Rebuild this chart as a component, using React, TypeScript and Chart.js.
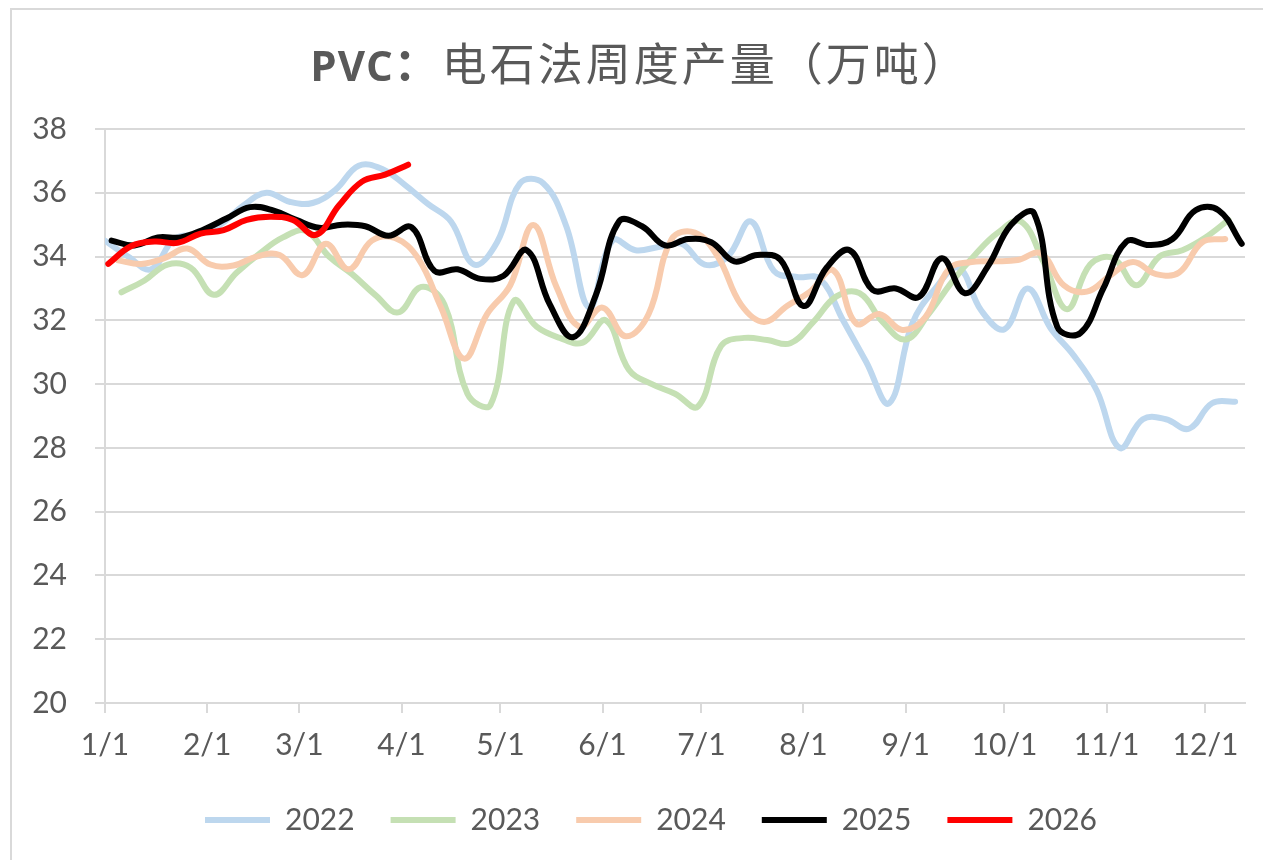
import React, { useEffect, useRef } from 'react';
import { Chart, registerables } from 'chart.js';

Chart.register(...registerables);

// x axis: day of year (0 = 1/1)
const monthTickDays = [0, 31, 59, 90, 120, 151, 181, 212, 243, 273, 304, 334];
const monthTickLabels = ['1/1', '2/1', '3/1', '4/1', '5/1', '6/1', '7/1', '8/1', '9/1', '10/1', '11/1', '12/1'];

const seriesNames = ['2022', '2023', '2024', '2025', '2026'];
// day of year of each series' first weekly observation
const firstWeekDay = [0, 5, 4, 2, 1];
const seriesColors = ['#BDD7EE', '#C5E0B4', '#F8CBAD', '#000000', '#FF0000'];

const values2022 = [34.5, 34.0, 33.6, 34.55, 34.7, 35.0, 35.6, 36.0, 35.72, 35.68, 36.1, 36.85, 36.75, 36.25, 35.65, 35.1, 33.75, 34.45, 36.3, 36.3, 34.95, 32.4, 34.5, 34.2, 34.3, 34.4, 33.75, 34.0, 35.1, 33.55, 33.36, 33.3, 32.0, 30.7, 29.4, 31.9, 33.0, 33.65, 32.3, 31.72, 33.0, 31.75, 30.9, 29.8, 28.0, 28.9, 28.9, 28.6, 29.4, 29.45];
const values2023 = [32.88, 33.25, 33.75, 33.65, 32.8, 33.5, 34.1, 34.6, 34.8, 34.0, 33.45, 32.8, 32.25, 33.05, 32.5, 29.7, 29.35, 32.6, 31.8, 31.45, 31.3, 32.0, 30.45, 30.0, 29.7, 29.3, 31.2, 31.45, 31.38, 31.28, 31.95, 32.75, 32.85, 31.95, 31.4, 32.2, 33.2, 34.05, 34.75, 35.1, 33.8, 32.35, 33.75, 33.95, 33.1, 34.0, 34.2, 34.6, 35.15];
const values2024 = [33.88, 33.77, 33.95, 34.25, 33.75, 33.72, 34.0, 34.05, 33.42, 34.4, 33.6, 34.5, 34.58, 33.95, 32.4, 30.8, 32.2, 33.1, 34.99, 33.05, 31.8, 32.4, 31.5, 32.2, 34.55, 34.75, 34.0, 32.5, 31.95, 32.45, 32.9, 33.57, 31.9, 32.2, 31.7, 32.1, 33.6, 33.83, 33.85, 33.89, 34.1, 33.1, 32.9, 33.4, 33.83, 33.45, 33.5, 34.45, 34.55];
const values2025 = [34.5, 34.35, 34.6, 34.6, 34.85, 35.2, 35.55, 35.45, 35.15, 34.9, 35.0, 34.95, 34.65, 34.92, 33.55, 33.6, 33.3, 33.4, 34.2, 32.5, 31.47, 32.8, 35.1, 34.95, 34.35, 34.55, 34.45, 33.85, 34.05, 33.9, 32.45, 33.65, 34.2, 32.95, 33.0, 32.73, 33.95, 32.85, 33.7, 35.0, 35.35, 31.8, 31.6, 33.0, 34.47, 34.36, 34.55, 35.45, 35.45, 34.4];
const values2026 = [33.77, 34.33, 34.47, 34.43, 34.72, 34.83, 35.15, 35.25, 35.15, 34.68, 35.6, 36.35, 36.57, 36.88];

const seriesValues = [values2022, values2023, values2024, values2025, values2026];

const yMin = 20;
const yMax = 38;
const yStep = 2;

const TEXT = '#595959';
const GRID = '#d9d9d9';
const FONT = "Lato, 'Noto Sans', sans-serif";

export default function App() {
  const canvasRef = useRef<HTMLCanvasElement | null>(null);

  useEffect(() => {
    const canvas = canvasRef.current;
    if (!canvas) return;

    const datasets = seriesNames.map((name, si) => ({
      label: name,
      data: seriesValues[si].map((y, i) => ({ x: firstWeekDay[si] + 7 * i, y })),
      borderColor: seriesColors[si],
      backgroundColor: seriesColors[si],
      borderWidth: 6,
      pointRadius: 0,
      pointHoverRadius: 0,
      tension: 0.4,
      fill: false,
      borderCapStyle: 'round' as const,
      borderJoinStyle: 'round' as const,
      order: seriesNames.length - si,
    }));

    const chart = new Chart(canvas, {
      type: 'line',
      data: { datasets },
      options: {
        animation: false,
        responsive: false,
        devicePixelRatio: 1,
        parsing: false as any,
        layout: { padding: { left: 57, right: 18, top: 129, bottom: 15 } },
        plugins: {
          title: { display: false },
          tooltip: { enabled: false },
          legend: {
            position: 'bottom',
            labels: {
              boxWidth: 65,
              boxHeight: 6,
              padding: 36,
              color: TEXT,
              font: { family: FONT, size: 30 },
              generateLabels: (c: any) =>
                c.data.datasets.map((ds: any, i: number) => ({
                  text: ds.label,
                  fillStyle: ds.borderColor,
                  strokeStyle: ds.borderColor,
                  lineWidth: 0,
                  hidden: false,
                  datasetIndex: i,
                  fontColor: TEXT,
                })),
            },
          },
        },
        scales: {
          x: {
            type: 'linear',
            min: 0,
            max: 346,
            afterBuildTicks: (axis: any) => {
              axis.ticks = monthTickDays.map((v) => ({ value: v }));
            },
            afterFit: (scale: any) => {
              scale.height = 66;
            },
            ticks: {
              autoSkip: false,
              maxRotation: 0,
              color: TEXT,
              padding: 14,
              font: { family: FONT, size: 30 },
              callback: (_v: any, i: number) => monthTickLabels[i],
            },
            grid: {
              drawOnChartArea: false,
              drawTicks: true,
              tickLength: 10,
              color: GRID,
              lineWidth: 2,
            },
            border: { display: true, color: GRID, width: 2 },
          },
          y: {
            min: yMin,
            max: yMax,
            afterFit: (scale: any) => {
              scale.width = 48;
              // labels sit left of the (narrow) axis box; do not clip them to it
              scale._computeLabelArea = () => undefined;
            },
            ticks: {
              stepSize: yStep,
              color: TEXT,
              padding: 28,
              font: { family: FONT, size: 30 },
            },
            grid: {
              color: GRID,
              lineWidth: 2,
              tickLength: 10,
              drawTicks: true,
            },
            border: { display: true, color: GRID, width: 2 },
          },
        },
      },
    });

    return () => chart.destroy();
  }, []);

  return (
    <div
      style={{
        position: 'fixed',
        left: 0,
        top: 0,
        width: 1263,
        height: 860,
        overflow: 'hidden',
        background: '#ffffff',
      }}
    >
      <div
        style={{
          position: 'absolute',
          left: 10,
          top: 8,
          width: 1300,
          height: 900,
          border: `2px solid ${GRID}`,
          boxSizing: 'border-box',
        }}
      />
      <canvas
        ref={canvasRef}
        width={1263}
        height={860}
        style={{ position: 'absolute', left: 0, top: 0, width: 1263, height: 860 }}
      />
      <div
        style={{
          position: 'absolute',
          left: 0,
          top: 33,
          width: 1280,
          textAlign: 'center',
          fontFamily: "'Noto Sans CJK SC', sans-serif",
          fontSize: 45,
          lineHeight: '58px',
          letterSpacing: 3,
          color: TEXT,
          whiteSpace: 'nowrap',
        }}
      >
        <span style={{ fontWeight: 'bold', fontFamily: "'Open Sans', 'Noto Sans', sans-serif", fontSize: 42, letterSpacing: 1 }}>PVC</span>
        <span style={{ fontWeight: 'bold' }}>：</span>
        <span>电石法周度产量（万吨）</span>
      </div>
    </div>
  );
}
